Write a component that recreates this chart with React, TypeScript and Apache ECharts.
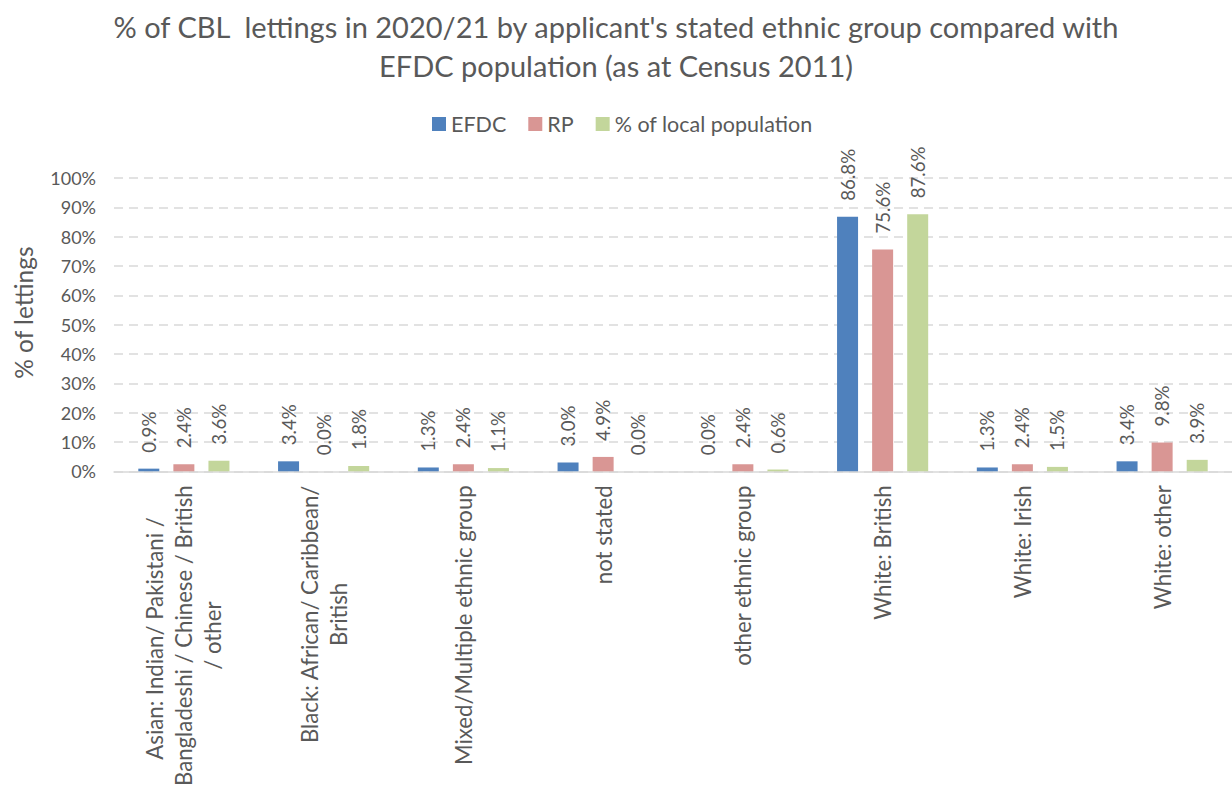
import React, { useEffect, useRef } from "react";
import * as echarts from "echarts";

const categories = [
  "Asian: Indian/ Pakistani / \nBangladeshi / Chinese / British\n/ other",
  "Black: African/ Caribbean/\nBritish",
  "Mixed/Multiple ethnic group",
  "not stated",
  "other ethnic group",
  "White: British",
  "White: Irish",
  "White: other",
];

const seriesNames = ["EFDC", "RP", "% of local population"];
const efdc = [0.9, 3.4, 1.3, 3.0, 0.0, 86.8, 1.3, 3.4];
const rp = [2.4, 0.0, 2.4, 4.9, 2.4, 75.6, 2.4, 9.8];
const localPop = [3.6, 1.8, 1.1, 0.0, 0.6, 87.6, 1.5, 3.9];
const colors = ["#4F81BD", "#D99694", "#C3D69B"];

const yTicks = { min: 0, max: 100, interval: 10 };
const titleText = "% of CBL  lettings in 2020/21 by applicant's stated ethnic group compared with\nEFDC population (as at Census 2011)";
const yAxisTitle = "% of lettings";

const FONT = "Lato";
const TEXT = "#595959";

export default function App() {
  const ref = useRef<HTMLDivElement>(null);
  useEffect(() => {
    if (!ref.current) return;
    const chart = echarts.init(ref.current, undefined, { renderer: "svg" });
    const values = [efdc, rp, localPop];
    const option: any = {
      animation: false,
      backgroundColor: "#ffffff",
      textStyle: { fontFamily: FONT, color: TEXT },
      title: {
        text: titleText,
        left: "center",
        top: 2,
        textStyle: {
          fontFamily: FONT,
          fontSize: 29,
          fontWeight: "normal",
          color: TEXT,
          lineHeight: 39,
        },
      },
      legend: {
        data: seriesNames,
        left: 427,
        top: 108,
        itemWidth: 14,
        itemHeight: 14,
        itemGap: 22,
        icon: "rect",
        textStyle: { fontFamily: FONT, fontSize: 21.5, color: TEXT },
      },
      grid: { left: 114, top: 178, width: 1128, height: 300, containLabel: false },
      xAxis: {
        type: "category",
        data: categories,
        axisTick: { show: false },
        axisLine: { lineStyle: { color: "#D9D9D9", width: 1.5 } },
        axisLabel: {
          interval: 0,
          rotate: 90,
          margin: 14,
          color: TEXT,
          fontFamily: FONT,
          fontSize: 22.2,
          lineHeight: 29,
          formatter: (v: string) =>
            v
              .split("\n")
              .map((l) => `{c|${l}}`)
              .join("\n"),
          rich: {
            c: {
              align: "center",
              fontFamily: FONT,
              fontSize: 22.2,
              lineHeight: 29,
              color: TEXT,
            },
          },
        },
      },
      yAxis: {
        type: "value",
        min: yTicks.min,
        max: yTicks.max,
        interval: yTicks.interval,
        name: yAxisTitle,
        nameLocation: "middle",
        nameGap: 78,
        nameTextStyle: {
          fontFamily: FONT,
          fontSize: 24.5,
          color: TEXT,
          padding: [0, 0, 0, 24],
        },
        axisLine: { show: false },
        axisTick: { show: false },
        axisLabel: {
          formatter: "{value}%",
          margin: 18,
          color: TEXT,
          fontFamily: FONT,
          fontSize: 18,
        },
        splitLine: {
          lineStyle: { color: "#D9D9D9", width: 1.5, type: [9, 6] },
        },
      },
      series: seriesNames.map((name, i) => ({
        name,
        type: "bar",
        data: values[i],
        barWidth: 21,
        barGap: "67%",
        itemStyle: { color: colors[i] },
        label: {
          show: true,
          position: "top",
          rotate: 90,
          align: "left",
          verticalAlign: "middle",
          distance: 16,
          color: TEXT,
          fontFamily: FONT,
          fontSize: 18.7,
          formatter: (p: any) => `${Number(p.value).toFixed(1)}%`,
        },
      })),
    };
    chart.setOption(option);
    return () => chart.dispose();
  }, []);
  return (
    <div
      ref={ref}
      style={{ position: "absolute", left: 0, top: 0, width: 1232, height: 789, background: "#fff" }}
    />
  );
}
